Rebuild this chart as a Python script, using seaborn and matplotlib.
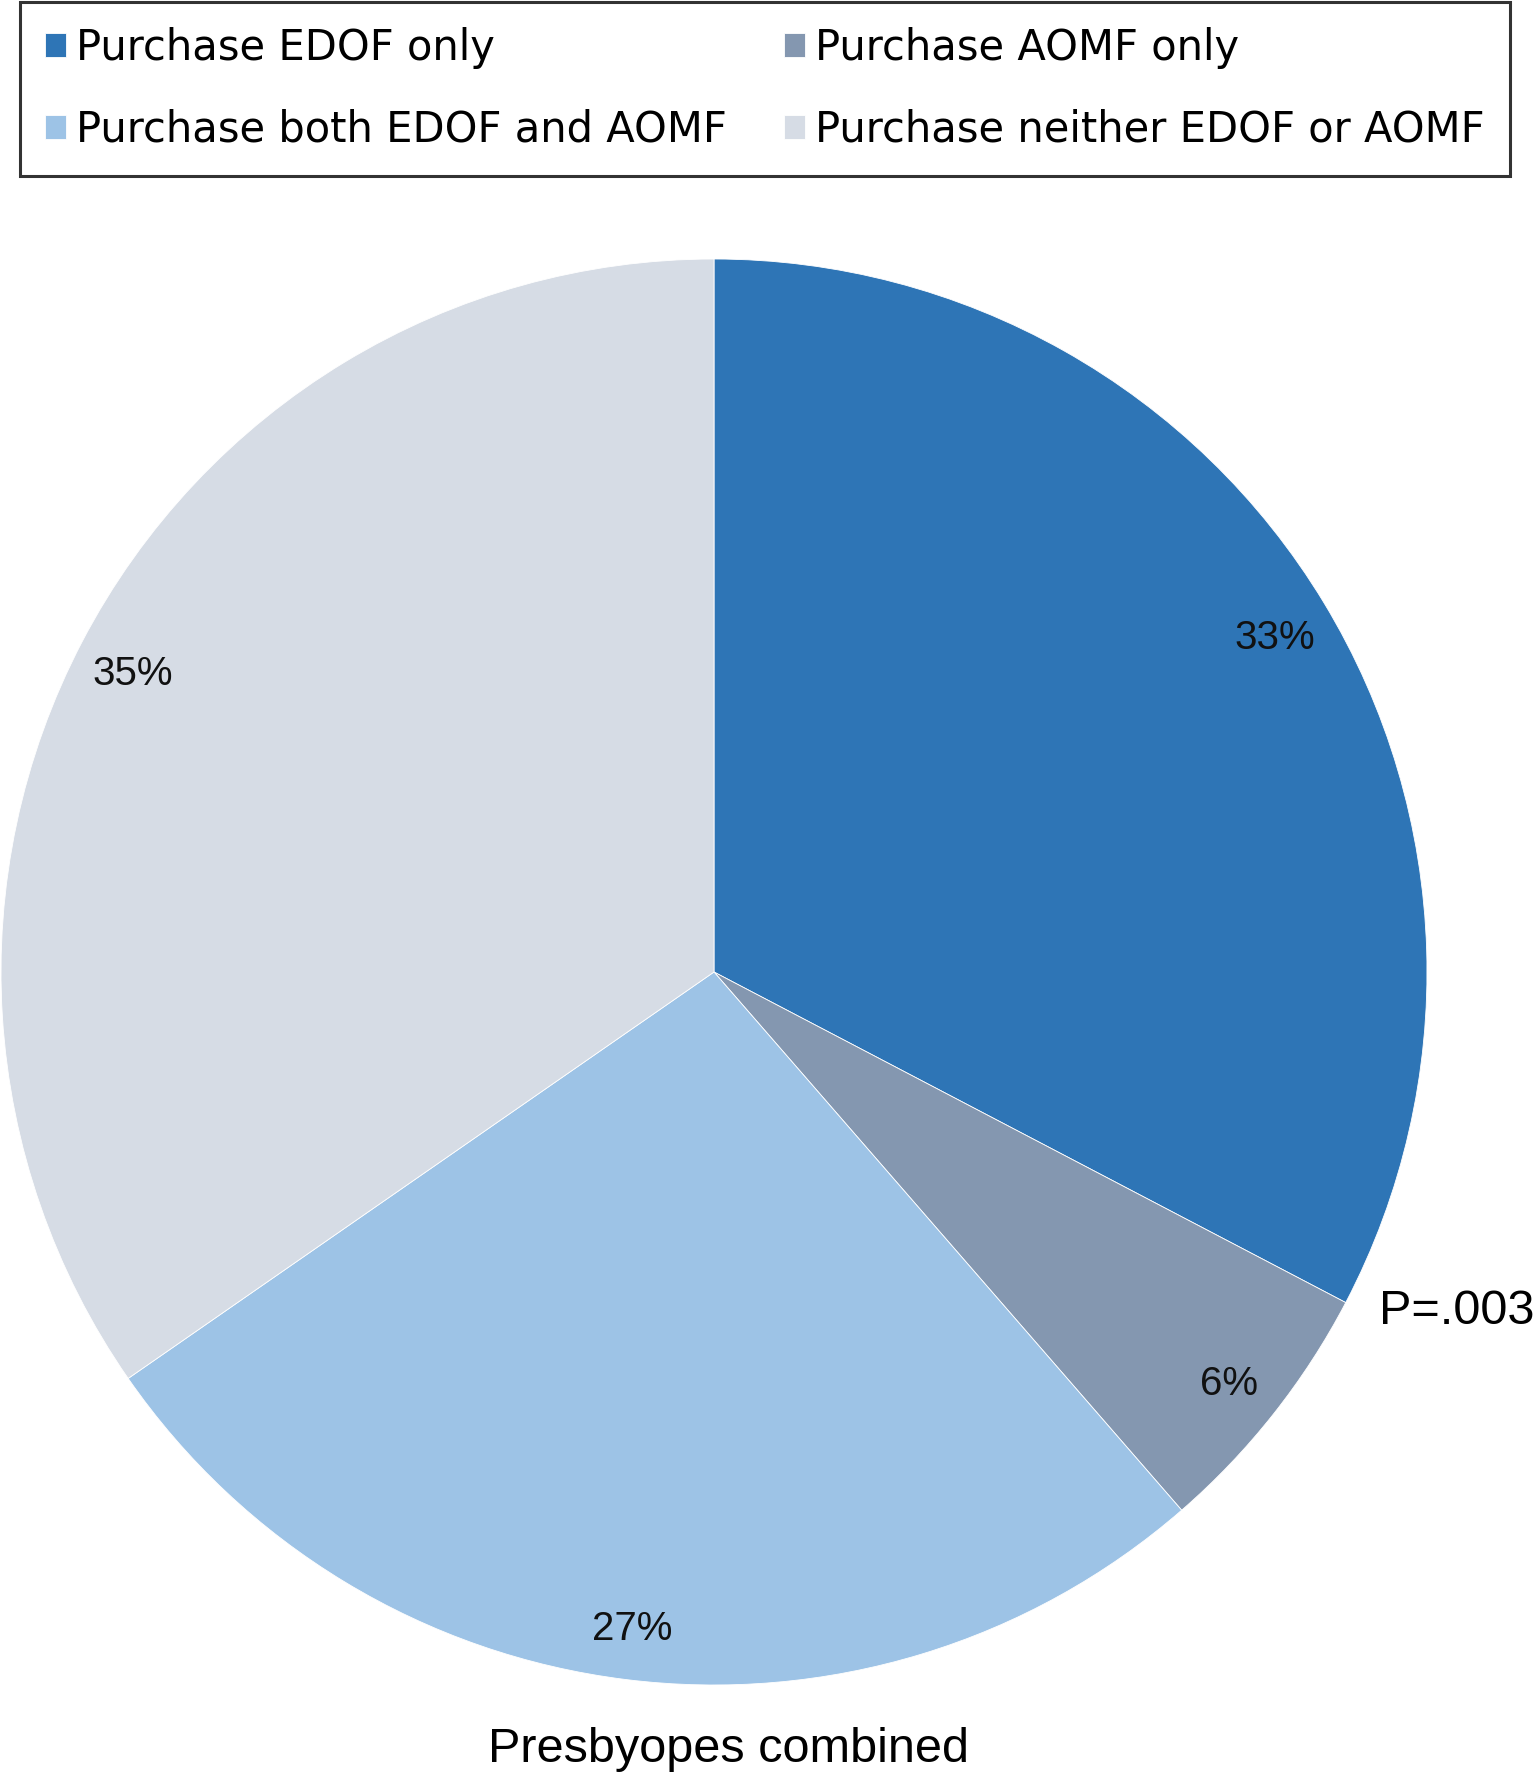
import matplotlib
matplotlib.use('Agg')
import matplotlib.pyplot as plt
import numpy as np
import seaborn as sns

# data
categories = ['Purchase EDOF only', 'Purchase AOMF only',
              'Purchase both EDOF and AOMF', 'Purchase neither EDOF or AOMF']
percents = [33, 6, 27, 35]
colors = ['#2E75B6', '#8497B0', '#9DC3E6', '#D6DCE5']
p_value_text = 'P=.003'
caption = 'Presbyopes combined'

sns.set_theme(style='white')
plt.rcParams['font.family'] = ['Liberation Sans', 'DejaVu Sans']
plt.rcParams['text.color'] = 'black'

W, H = 1533, 1778
fig = plt.figure(figsize=(W / 100, H / 100), dpi=100)

# pie axes: centre (714, 972) px, radius 713 px
cx, cy, r = 714, 972, 713
ax = fig.add_axes([(cx - r) / W, (H - cy - r) / H, 2 * r / W, 2 * r / H])
wedges, _ = ax.pie(percents, colors=colors, startangle=90, counterclock=False,
                   radius=1.0, wedgeprops=dict(edgecolor='white', linewidth=0.6))
ax.set_xlim(-1, 1)
ax.set_ylim(-1, 1)
ax.set_aspect('equal')
ax.axis('off')

# percentage labels at slice midpoints
for w, pct in zip(wedges, percents):
    mid = np.deg2rad((w.theta1 + w.theta2) / 2)
    ax.text(0.92 * np.cos(mid), 0.92 * np.sin(mid) - 0.008, f'{pct}%',
            ha='center', va='center', fontsize=29, color='#111111')

fig.text(1379 / W, 1 - 1312 / H, p_value_text, ha='left', va='center',
         fontsize=35, color='black')
fig.text(729 / W, 1 - 1750 / H, caption, ha='center', va='center',
         fontsize=35, color='black')

# legend is filled column-first, so reorder for row layout
order = [0, 2, 1, 3]
leg = fig.legend([wedges[i] for i in order], [categories[i] for i in order],
                 ncol=2, mode='expand', loc='upper left',
                 bbox_to_anchor=(20 / W, 1 - 180 / H, 1490 / W, 178 / H),
                 bbox_transform=fig.transFigure,
                 prop={'family': 'DejaVu Sans', 'size': 30},
                 handlelength=0.5, handleheight=0.5, handletextpad=0.25,
                 columnspacing=0.8, labelspacing=0.95, borderpad=0.6,
                 borderaxespad=0, frameon=True, fancybox=False)
leg.get_frame().set_edgecolor('black')
leg.get_frame().set_linewidth(2.2)
for t in leg.get_texts():
    t.set_color('black')

fig.savefig('out.png', dpi=100)
